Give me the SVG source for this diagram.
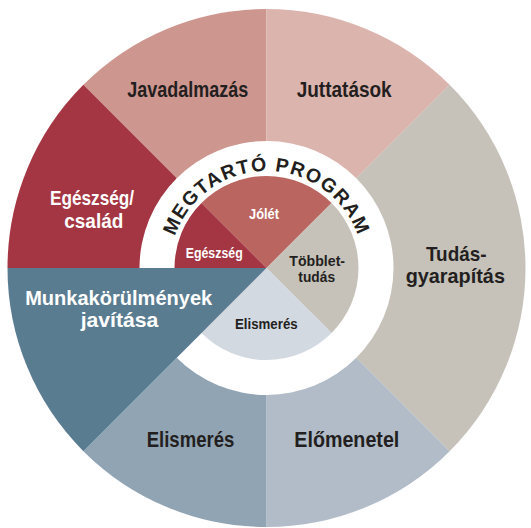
<svg xmlns="http://www.w3.org/2000/svg" width="531" height="528" viewBox="0 0 531 528">
  <defs>
    <style>
      .lbl { font-family: "Liberation Sans", Arial, sans-serif; font-weight: bold; text-anchor: middle; }
      .big { font-size: 22px; }
      .two { font-size: 20.5px; }
      .small { font-size: 15px; }
      .dark { fill: #231f20; }
      .light { fill: #ffffff; }
      .ring { font-family: "Liberation Sans", Arial, sans-serif; font-weight: bold; font-size: 19.5px; fill: #231f20; letter-spacing: 1.4px; }
    </style>
    <path id="ringPath" d="M 169.5 268 A 97 97 0 0 1 363.5 268"/>
  </defs>
  <rect width="531" height="528" fill="#ffffff"/>

  <g id="javadalmazas">
    <path d="M266.5,268 L83.36,84.86 A259,259 0 0 1 266.5,9 Z" fill="#cd968f"/>
    <text class="lbl big dark" x="187.8" y="97.3" textLength="121" lengthAdjust="spacingAndGlyphs">Javadalmazás</text>
  </g>
  <g id="juttatasok">
    <path d="M266.5,268 L266.5,9 A259,259 0 0 1 449.64,84.86 Z" fill="#dcb4ae"/>
    <text class="lbl big dark" x="344.2" y="97.3" textLength="95" lengthAdjust="spacingAndGlyphs">Juttatások</text>
  </g>
  <g id="tudasgyarapitas">
    <path d="M266.5,268 L449.64,84.86 A259,259 0 0 1 449.64,451.14 Z" fill="#c6c2ba"/>
    <text class="lbl two dark" x="456.3" y="261" textLength="60.7" lengthAdjust="spacingAndGlyphs">Tudás-</text>
    <text class="lbl two dark" x="455.3" y="283.3" textLength="99.3" lengthAdjust="spacingAndGlyphs">gyarapítás</text>
  </g>
  <g id="elomenetel">
    <path d="M266.5,268 L449.64,451.14 A259,259 0 0 1 266.5,527 Z" fill="#b1bcc8"/>
    <text class="lbl big dark" x="346.8" y="446.7" textLength="105" lengthAdjust="spacingAndGlyphs">Előmenetel</text>
  </g>
  <g id="elismeres-outer">
    <path d="M266.5,268 L266.5,527 A259,259 0 0 1 83.36,451.14 Z" fill="#91a4b4"/>
    <text class="lbl big dark" x="190.5" y="446.7" textLength="87.6" lengthAdjust="spacingAndGlyphs">Elismerés</text>
  </g>
  <g id="egeszseg-csalad">
    <path d="M266.5,268 L7.5,268 A259,259 0 0 1 83.36,84.86 Z" fill="#a43542"/>
    <text class="lbl two light" x="92" y="205" textLength="84" lengthAdjust="spacingAndGlyphs">Egészség/</text>
    <text class="lbl two light" x="93.8" y="227.7" textLength="59" lengthAdjust="spacingAndGlyphs">család</text>
  </g>

  <g id="megtarto-program">
    <circle cx="266.5" cy="268" r="127" fill="#ffffff"/>
    <text class="ring"><textPath href="#ringPath" startOffset="50%" text-anchor="middle">MEGTARTÓ PROGRAM</textPath></text>
  </g>

  <g id="jolet">
    <path d="M266.5,268 L201.45,202.95 A92,92 0 0 1 331.55,202.95 Z" fill="#ba655f"/>
    <text class="lbl small light" x="264" y="219" textLength="30" lengthAdjust="spacingAndGlyphs">Jólét</text>
  </g>
  <g id="tobblettudas">
    <path d="M266.5,268 L331.55,202.95 A92,92 0 0 1 331.55,333.05 Z" fill="#c6c2ba"/>
    <text class="lbl small dark" x="317.2" y="266" textLength="55.7" lengthAdjust="spacingAndGlyphs">Többlet-</text>
    <text class="lbl small dark" x="316.7" y="282.3" textLength="36.7" lengthAdjust="spacingAndGlyphs">tudás</text>
  </g>
  <g id="elismeres-inner">
    <path d="M266.5,268 L331.55,333.05 A92,92 0 0 1 201.45,333.05 Z" fill="#d3d9e0"/>
    <text class="lbl small dark" x="266.3" y="329" textLength="62.7" lengthAdjust="spacingAndGlyphs">Elismerés</text>
  </g>
  <g id="egeszseg-inner">
    <path d="M266.5,268 L174.5,268 A92,92 0 0 1 201.45,202.95 Z" fill="#a43542"/>
    <text class="lbl small light" x="214.2" y="257.7" textLength="57" lengthAdjust="spacingAndGlyphs">Egészség</text>
  </g>

  <g id="munkakorulmenyek">
    <path d="M266.5,268 L83.36,451.14 A259,259 0 0 1 7.5,268 Z" fill="#5a7c91"/>
    <text class="lbl two light" x="118.7" y="305" textLength="187" lengthAdjust="spacingAndGlyphs">Munkakörülmények</text>
    <text class="lbl two light" x="119.5" y="327.3" textLength="77.7" lengthAdjust="spacingAndGlyphs">javítása</text>
  </g>

  <g id="connectors"></g>
</svg>
